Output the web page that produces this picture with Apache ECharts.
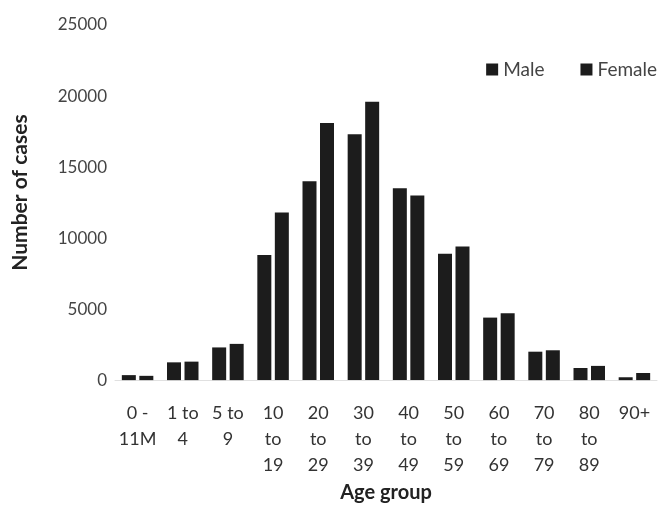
<!DOCTYPE html>
<html>
<head>
<meta charset="utf-8">
<script src="https://cdn.jsdelivr.net/npm/echarts@6/dist/echarts.min.js"></script>
<style>
html,body{margin:0;padding:0;background:#ffffff;}
#chart{width:663px;height:508px;}
</style>
</head>
<body>
<div id="chart"></div>
<script>
const categories = ["0 -\n11M","1 to\n4","5 to\n9","10\nto\n19","20\nto\n29","30\nto\n39","40\nto\n49","50\nto\n59","60\nto\n69","70\nto\n79","80\nto\n89","90+"];
const maleCases = [350, 1250, 2300, 8800, 14000, 17300, 13500, 8900, 4400, 2000, 850, 200];
const femaleCases = [300, 1300, 2550, 11800, 18100, 19600, 13000, 9400, 4700, 2100, 1000, 500];
const yTicks = [0, 5000, 10000, 15000, 20000, 25000];

const FONT = "Lato, 'Open Sans', sans-serif";
const chart = echarts.init(document.getElementById('chart'));
chart.setOption({
  backgroundColor: '#ffffff',
  animation: false,
  textStyle: {fontFamily: FONT},
  legend: {
    right: 1, top: 55,
    itemWidth: 12, itemHeight: 12, itemGap: 36,
    icon: 'rect',
    textStyle: {fontFamily: FONT, fontSize: 19, color: '#444'},
    data: ['Male', 'Female']
  },
  grid: {left: 115, right: 6, top: 25, bottom: 126},
  xAxis: {
    type: 'category',
    data: categories,
    name: 'Age group',
    nameLocation: 'middle',
    nameGap: 82,
    nameTextStyle: {fontFamily: FONT, fontSize: 20, fontWeight: 'bold', color: '#222'},
    axisLine: {show: true, lineStyle: {color: '#e0e0e0'}},
    axisTick: {show: false},
    axisLabel: {interval: 0, margin: 20, fontSize: 18, lineHeight: 26, color: '#333', fontFamily: FONT}
  },
  yAxis: {
    type: 'value',
    min: yTicks[0], max: yTicks[yTicks.length - 1], interval: 5000,
    name: 'Number of cases',
    nameLocation: 'middle',
    nameGap: 84,
    nameTextStyle: {fontFamily: FONT, fontSize: 21, fontWeight: 'bold', color: '#222', padding: [0, 0, 0, 20]},
    axisLine: {show: false},
    axisTick: {show: false},
    splitLine: {show: false},
    axisLabel: {margin: 8, fontSize: 17, color: '#444', fontFamily: FONT, formatter: function (v) { return String(v); }}
  },
  series: [
    {name: 'Male', type: 'bar', data: maleCases, barWidth: 14, barGap: '25%', itemStyle: {color: '#1c1c1c'}},
    {name: 'Female', type: 'bar', data: femaleCases, barWidth: 14, barGap: '25%', itemStyle: {color: '#1c1c1c'}}
  ]
});
</script>
</body>
</html>
